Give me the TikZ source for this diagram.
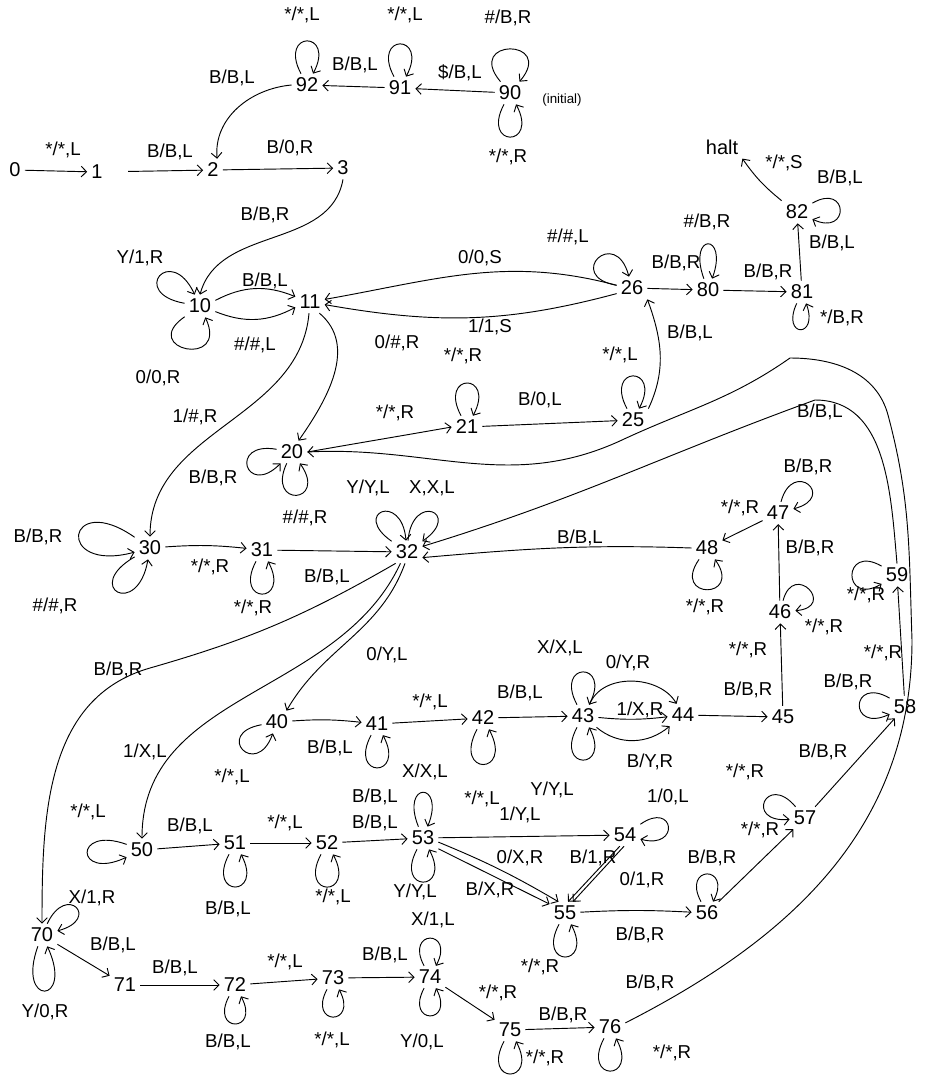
\documentclass[tikz,border=0pt]{standalone}
\usepackage{fontspec}
\setmainfont{Liberation Sans}
\usetikzlibrary{arrows.meta}
\begin{document}
\begin{tikzpicture}[x=0.75pt,y=-0.75pt,
  st/.style={inner sep=3pt,font=\fontsize{15}{15}\selectfont},
  lab/.style={inner sep=0pt,font=\fontsize{14}{14}\selectfont},
  ar/.style={line width=0.7pt,-{Straight Barb[length=4pt,width=8pt]}},
  lp/.style={ar,distance=13mm},
  up/.style={lp,out=118,in=62},
  dn/.style={lp,out=-118,in=-62},
]
\useasboundingbox (0,0) rectangle (935,1082);
% states
\node[st] (s0) at (15,170) {0};
\node[st] (s1) at (97,172) {1};
\node[st] (s2) at (213,170) {2};
\node[st] (s3) at (343,168) {3};
\node[st] (s92) at (307,85) {92};
\node[st] (s91) at (400,88) {91};
\node[st] (s90) at (510,93) {90};
\node[lab,font=\fontsize{10}{10}\selectfont] (init) at (562,100) {(initial)};
\node[st] (s10) at (200,306) {10};
\node[st] (s11) at (310,302) {11};
\node[st] (s26) at (632,288) {26};
\node[st] (s80) at (708,290) {80};
\node[st] (s81) at (802,292) {81};
\node[st] (s82) at (797,212) {82};
\node[st] (halt) at (722,147) {halt};
\node[st] (s20) at (292,452) {20};
\node[st] (s21) at (467,427) {21};
\node[st] (s25) at (633,420) {25};
\node[st] (s30) at (150,548) {30};
\node[st] (s31) at (262,550) {31};
\node[st] (s32) at (407,552) {32};
\node[st] (s47) at (778,513) {47};
\node[st] (s48) at (707,548) {48};
\node[st] (s46) at (780,612) {46};
\node[st] (s45) at (783,717) {45};
\node[st] (s59) at (897,575) {59};
\node[st] (s58) at (905,707) {58};
\node[st] (s57) at (805,818) {57};
\node[st] (s40) at (277,722) {40};
\node[st] (s41) at (377,724) {41};
\node[st] (s42) at (483,718) {42};
\node[st] (s43) at (583,716) {43};
\node[st] (s44) at (683,715) {44};
\node[st] (s50) at (142,850) {50};
\node[st] (s51) at (235,843) {51};
\node[st] (s52) at (327,843) {52};
\node[st] (s53) at (423,838) {53};
\node[st] (s54) at (625,835) {54};
\node[st] (s55) at (565,913) {55};
\node[st] (s56) at (707,913) {56};
\node[st] (s70) at (42,935) {70};
\node[st] (s71) at (125,985) {71};
\node[st] (s72) at (235,985) {72};
\node[st] (s73) at (333,978) {73};
\node[st] (s74) at (430,977) {74};
\node[st] (s75) at (510,1030) {75};
\node[st] (s76) at (610,1027) {76};
% labels
\node[lab] (l01) at (302,15) {*/*,L};
\node[lab] (l02) at (405,15) {*/*,L};
\node[lab] (l03) at (508,18) {\#/B,R};
\node[lab] (l04) at (508,157) {*/*,R};
\node[lab] (l05) at (232,78) {B/B,L};
\node[lab] (l06) at (355,65) {B/B,L};
\node[lab] (l07) at (460,73) {\$/B,L};
\node[lab] (l08) at (63,150) {*/*,L};
\node[lab] (l09) at (170,152) {B/B,L};
\node[lab] (l10) at (290,148) {B/0,R};
\node[lab] (l11) at (265,215) {B/B,R};
\node[lab] (l12) at (140,258) {Y/1,R};
\node[lab] (l13) at (158,378) {0/0,R};
\node[lab] (l14) at (265,281) {B/B,L};
\node[lab] (l15) at (255,345) {\#/\#,L};
\node[lab] (l16) at (480,258) {0/0,S};
\node[lab] (l17) at (490,327) {1/1,S};
\node[lab] (l18) at (568,237) {\#/\#,L};
\node[lab] (l19) at (676,263) {B/B,R};
\node[lab] (l20) at (707,222) {\#/B,R};
\node[lab] (l21) at (768,272) {B/B,R};
\node[lab] (l22) at (842,318) {*/B,R};
\node[lab] (l23) at (832,243) {B/B,L};
\node[lab] (l24) at (840,178) {B/B,L};
\node[lab] (l25) at (784,163) {*/*,S};
\node[lab] (l26) at (690,333) {B/B,L};
\node[lab] (l27) at (397,343) {0/\#,R};
\node[lab] (l28) at (463,356) {*/*,R};
\node[lab] (l29) at (620,355) {*/*,L};
\node[lab] (l30) at (540,400) {B/0,L};
\node[lab] (l31) at (395,413) {*/*,R};
\node[lab] (l32) at (195,417) {1/\#,R};
\node[lab] (l33) at (213,478) {B/B,R};
\node[lab] (l34) at (305,518) {\#/\#,R};
\node[lab] (l35) at (820,412) {B/B,L};
\node[lab] (l36) at (368,488) {Y/Y,L};
\node[lab] (l37) at (432,488) {X,X,L};
\node[lab] (l38) at (38,537) {B/B,R};
\node[lab] (l39) at (55,606) {\#/\#,R};
\node[lab] (l40) at (210,567) {*/*,R};
\node[lab] (l41) at (253,608) {*/*,R};
\node[lab] (l42) at (327,577) {B/B,L};
\node[lab] (l43) at (808,467) {B/B,R};
\node[lab] (l44) at (740,508) {*/*,R};
\node[lab] (l45) at (580,538) {B/B,L};
\node[lab] (l46) at (810,548) {B/B,R};
\node[lab] (l47) at (705,607) {*/*,R};
\node[lab] (l48) at (824,627) {*/*,R};
\node[lab] (l49) at (866,595) {*/*,R};
\node[lab] (l50) at (748,650) {*/*,R};
\node[lab] (l51) at (883,653) {*/*,R};
\node[lab] (l52) at (118,670) {B/B,R};
\node[lab] (l53) at (387,655) {0/Y,L};
\node[lab] (l54) at (560,648) {X/X,L};
\node[lab] (l55) at (628,663) {0/Y,R};
\node[lab] (l56) at (520,693) {B/B,L};
\node[lab] (l57) at (748,690) {B/B,R};
\node[lab] (l58) at (848,682) {B/B,R};
\node[lab] (l59) at (430,702) {*/*,L};
\node[lab] (l60) at (640,710) {1/X,R};
\node[lab] (l61) at (330,748) {B/B,L};
\node[lab] (l62) at (650,762) {B/Y,R};
\node[lab] (l63) at (823,752) {B/B,R};
\node[lab] (l64) at (145,752) {1/X,L};
\node[lab] (l65) at (232,777) {*/*,L};
\node[lab] (l66) at (425,772) {X/X,L};
\node[lab] (l67) at (745,772) {*/*,R};
\node[lab] (l68) at (375,797) {B/B,L};
\node[lab] (l69) at (482,799) {*/*,L};
\node[lab] (l70) at (552,790) {Y/Y,L};
\node[lab] (l71) at (668,797) {1/0,L};
\node[lab] (l72) at (88,812) {*/*,L};
\node[lab] (l73) at (520,815) {1/Y,L};
\node[lab] (l74) at (760,830) {*/*,R};
\node[lab] (l75) at (190,826) {B/B,L};
\node[lab] (l76) at (285,823) {*/*,L};
\node[lab] (l77) at (375,823) {B/B,L};
\node[lab] (l78) at (520,858) {0/X,R};
\node[lab] (l79) at (593,858) {B/1,R};
\node[lab] (l80) at (712,858) {B/B,R};
\node[lab] (l81) at (642,880) {0/1,R};
\node[lab] (l82) at (228,909) {B/B,L};
\node[lab] (l83) at (333,897) {*/*,L};
\node[lab] (l84) at (415,892) {Y/Y,L};
\node[lab] (l85) at (490,890) {B/X,R};
\node[lab] (l86) at (92,898) {X/1,R};
\node[lab] (l87) at (433,920) {X/1,L};
\node[lab] (l88) at (640,935) {B/B,R};
\node[lab] (l89) at (113,945) {B/B,L};
\node[lab] (l90) at (540,967) {*/*,R};
\node[lab] (l91) at (650,983) {B/B,R};
\node[lab] (l92) at (175,968) {B/B,L};
\node[lab] (l93) at (285,962) {*/*,L};
\node[lab] (l94) at (385,955) {B/B,L};
\node[lab] (l95) at (498,993) {*/*,R};
\node[lab] (l96) at (563,1015) {B/B,R};
\node[lab] (l97) at (45,1012) {Y/0,R};
\node[lab] (l98) at (228,1042) {B/B,L};
\node[lab] (l99) at (332,1040) {*/*,L};
\node[lab] (l100) at (422,1042) {Y/0,L};
\node[lab] (l101) at (545,1058) {*/*,R};
\node[lab] (l102) at (672,1053) {*/*,R};
% helper coordinates
\coordinate (c1) at (815,400);
\coordinate (c2) at (912,640);
\coordinate (c2b) at (888,415);
\coordinate (c3) at (790,358);
\coordinate (c5) at (622,440);
\coordinate (c4) at (150,668);
% edges
\draw[ar] (s0) -- (s1);
\draw[ar,shorten <=16pt] (s1) -- (s2);
\draw[ar] (s2) -- (s3);
\draw[ar] (s90) -- (s91);
\draw[ar] (s91) -- (s92);
\draw[ar] (s92.west) to[out=185,in=95] (s2.70);
\draw[up] (s92) to (s92);
\draw[up] (s91) to (s91);
\draw[lp,distance=15mm] (s90) to[out=130,in=50] (s90);
\draw[dn] (s90) to (s90);
\draw[ar] (s3.south) to[out=-100,in=75] (s10.north);
\draw[lp,distance=15mm] (s10) to[out=170,in=115] (s10);
\draw[lp,distance=15mm] (s10) to[out=215,in=-65] (s10);
\draw[ar] (s10.20) to[bend left=25] (s11.160);
\draw[ar] (s10.-20) to[bend right=25] (s11.-160);
\draw[ar] (s26.170) to[out=165,in=10] (s11.10);
\draw[ar] (s26.-160) to[out=195,in=-10] (s11.-10);
\draw[ar] (s11.-50) to[out=-40,in=55] (s20.60);
\draw[ar] (s11.-95) to[out=-95,in=90] (s30.north);
\draw[lp,distance=14mm] (s26) to[out=170,in=105] (s26);
\draw[ar] (s26) -- (s80);
\draw[lp,distance=13mm] (s80) to[out=110,in=70] (s80);
\draw[ar] (s80) -- (s81);
\draw[lp,distance=10mm] (s81) to[out=-115,in=-70] (s81);
\draw[ar] (s81) -- (s82);
\draw[lp,distance=11mm] (s82) to[out=30,in=-25] (s82);
\draw[ar] (s82.north west) to[bend left=8] (halt.south east);
\draw[ar] (s25.north east) to[out=65,in=-70] (s26.south east);
\draw[up] (s25) to (s25);
\draw[up] (s21) to (s21);
\draw[ar] (s21) -- (s25);
\draw[ar] (s20.east) to[out=10,in=190] (s21.west);
\draw[lp,distance=13mm] (s20) to[out=170,in=225] (s20);
\draw[lp,distance=13mm] (s20) to[out=-115,in=-55] (s20);
\draw[lp,distance=22mm] (s30) to[out=145,in=195] (s30);
\draw[lp,distance=16mm] (s30) to[out=210,in=-100] (s30);
\draw[ar] (s30) to[bend left=5] (s31);
\draw[dn] (s31) to (s31);
\draw[ar] (s31) -- (s32);
\draw[lp,distance=13mm] (s32) to[out=145,in=95] (s32);
\draw[lp,distance=13mm] (s32) to[out=85,in=35] (s32);
\draw[ar] (s48.west) to[out=178,in=5] (s32.-20);
\draw[ar] (s59.north) to[out=95,in=0] (c1) to[out=200,in=17] (s32.20);
\draw[ar] (s76.15) to[out=27,in=-90] (c2) to[out=92,in=-75] (c2b) to[out=105,in=0] (c3) to[out=215,in=25] (c5) to[out=205,in=3] (s20.east);
\draw[lp,distance=12mm] (s47) to[out=75,in=15] (s47);
\draw[ar] (s47) -- (s48);
\draw[lp,distance=13mm] (s48) to[out=-125,in=-55] (s48);
\draw[ar] (s46) -- (s47);
\draw[lp,distance=11mm] (s46) to[out=75,in=5] (s46);
\draw[ar] (s45) -- (s46);
\draw[ar] (s44) -- (s45);
\draw[ar] (s58) -- (s59);
\draw[lp,distance=12mm] (s59) to[out=150,in=210] (s59);
\draw[lp,distance=12mm] (s58) to[out=150,in=205] (s58);
\draw[ar] (s57) -- (s58);
\draw[lp,distance=12mm] (s57) to[out=130,in=185] (s57);
\draw[ar] (s56) -- (s57);
\draw[ar] (s32.-100) to[out=-110,in=60] (s40.50);
\draw[ar] (s32.-120) to[out=-115,in=90] (s50.north);
\draw[ar] (s32.-135) to[out=-150,in=16] (c4) to[out=196,in=90] (s70.north);
\draw[lp,distance=13mm] (s40) to[out=190,in=250] (s40);
\draw[ar] (s40) to[bend left=5] (s41);
\draw[ar] (s41) -- (s42);
\draw[dn] (s41) to (s41);
\draw[ar] (s42) -- (s43);
\draw[dn,distance=14mm] (s42) to (s42);
\draw[up] (s43) to (s43);
\draw[dn] (s43) to (s43);
\draw[ar] (s43.60) to[out=70,in=120] (s44.120);
\draw[ar] (s43) to[bend right=6] (s44);
\draw[ar] (s43.-40) to[out=-40,in=-140] (s44.-140);
\draw[lp,distance=15mm] (s50) to[out=160,in=205] (s50);
\draw[ar] (s50) -- (s51);
\draw[ar] (s51) -- (s52);
\draw[ar] (s52) -- (s53);
\draw[dn] (s51) to (s51);
\draw[dn] (s52) to (s52);
\draw[lp,out=112,in=68] (s53) to (s53);
\draw[dn] (s53) to (s53);
\draw[ar] (s53) -- (s54);
\draw[ar] (s53.-15) to[bend left=4] (s55.120);
\draw[ar] (s53.-35) -- (s55.150);
\draw[lp,distance=11mm] (s54) to[out=35,in=-15] (s54);
\draw[ar] (s54.-115) -- (s55.75);
\draw[ar] (s54.-95) -- (s55.55);
\draw[dn] (s55) to (s55);
\draw[ar] (s55) to[bend left=3] (s56);
\draw[up,distance=11mm] (s56) to (s56);
\draw[lp,distance=12mm] (s70) to[out=65,in=15] (s70);
\draw[lp,distance=17mm] (s70) to[out=-110,in=-65] (s70);
\draw[ar] (s70) -- (s71);
\draw[ar] (s71) -- (s72);
\draw[ar] (s72) -- (s73);
\draw[ar] (s73) -- (s74);
\draw[dn,distance=11mm] (s72) to (s72);
\draw[dn,distance=11mm] (s73) to (s73);
\draw[up,distance=11mm] (s74) to (s74);
\draw[dn,distance=11mm] (s74) to (s74);
\draw[ar] (s74) -- (s75);
\draw[ar] (s75) -- (s76);
\draw[dn] (s75) to (s75);
\draw[dn] (s76) to (s76);
\end{tikzpicture}
\end{document}
